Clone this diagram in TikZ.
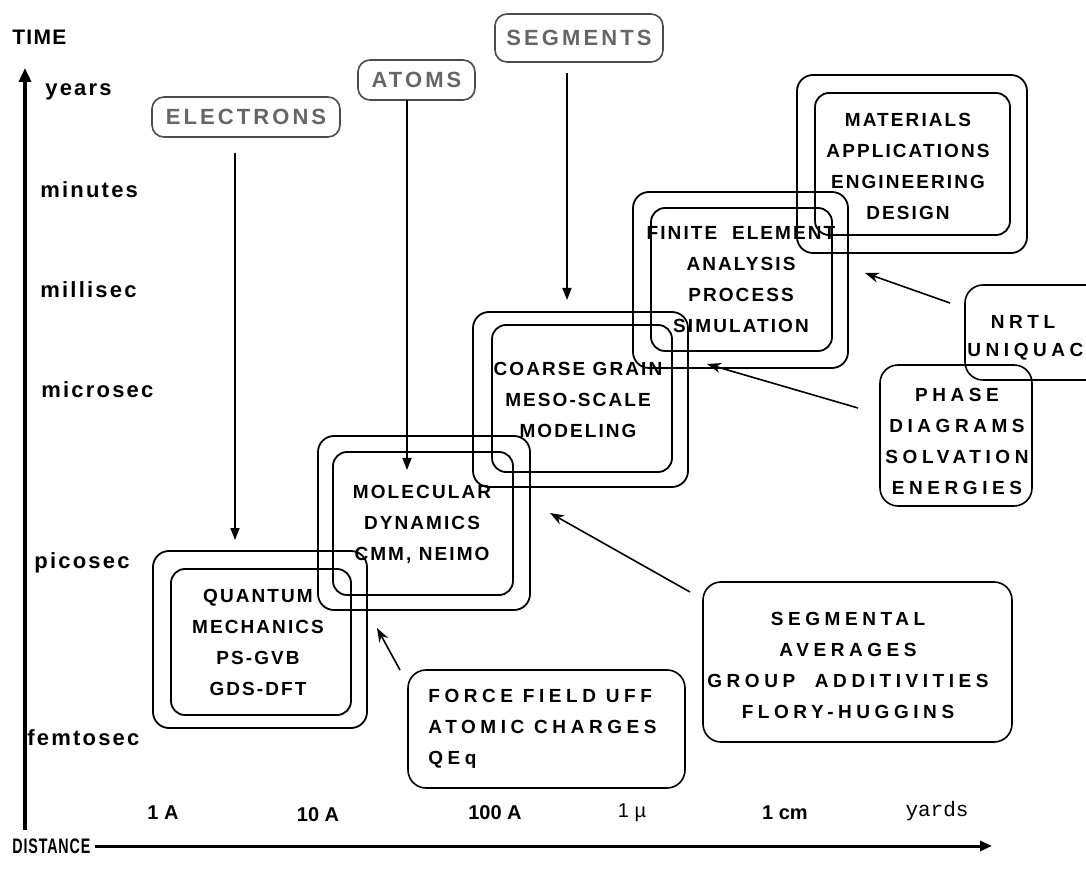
\documentclass[tikz,border=0pt]{standalone}
\usepackage{fontspec}
\setmainfont{Liberation Sans}
\newfontfamily\boxfont[LetterSpace=11]{Liberation Sans}
\newfontfamily\widefont[LetterSpace=24]{Liberation Sans}
\newfontfamily\headfont[LetterSpace=14]{Liberation Sans}
\newfontfamily\axisfont[LetterSpace=6]{Liberation Sans}
\newfontfamily\timefont[LetterSpace=10]{Liberation Sans}
\newfontfamily\yardfont{Liberation Mono}
\usetikzlibrary{arrows.meta}
\begin{document}
\begin{tikzpicture}[x=0.5pt,y=-0.5pt,
  box/.style={draw, rounded corners=8pt, line width=0.9pt, inner sep=0pt},
  ibox/.style={draw, rounded corners=7pt, line width=0.9pt, inner sep=0pt},
  sbox/.style={draw, rounded corners=9pt, line width=0.8pt, inner sep=0pt},
  hbox/.style={draw=black!70, rounded corners=6pt, line width=0.8pt, inner sep=0pt, text=black!60, font=\headfont\bfseries\fontsize{11}{13}\selectfont},
  btxt/.style={align=center, inner sep=0pt, font=\boxfont\bfseries\fontsize{9.5}{15.5}\selectfont},
  stxt/.style={align=center, inner sep=0pt, font=\widefont\bfseries\fontsize{9.5}{15.5}\selectfont},
  ttxt/.style={anchor=west, inner sep=0pt, font=\timefont\bfseries\fontsize{11}{13}\selectfont},
  dtxt/.style={inner sep=0pt, font=\bfseries\fontsize{10}{12}\selectfont},
  varrow/.style={line width=0.8pt, -{Triangle[length=6pt,width=4.5pt]}},
  darrow/.style={line width=0.8pt, -{Stealth[length=7pt,width=5pt]}},
]
\useasboundingbox (0,0) rectangle (1086,876);

% axes
\coordinate (tbot) at (25,830);
\coordinate (ttop) at (25,68);
\draw[line width=2pt, -{Triangle[length=7pt,width=6pt]}] (tbot) -- (ttop);
\coordinate (dleft) at (95,846);
\coordinate (dright) at (992,846);
\draw[line width=1.5pt, -{Triangle[length=6pt,width=5pt]}] (dleft) -- (dright);

\node[inner sep=0pt, anchor=west, font=\axisfont\bfseries\fontsize{10.5}{13}\selectfont] (time) at (12,37) {TIME};
\node[inner sep=0pt, anchor=west, font=\axisfont\bfseries\fontsize{10.5}{13}\selectfont] (dist) at (12,846) {\scalebox{0.68}[1]{DISTANCE}};

% time labels
\node[ttxt] (years) at (45,92) {years};
\node[ttxt] (minutes) at (40,190) {minutes};
\node[ttxt] (millisec) at (40,290) {millisec};
\node[ttxt] (microsec) at (41,390) {microsec};
\node[ttxt] (picosec) at (34,563) {picosec};
\node[ttxt] (femtosec) at (27,738) {femtosec};

% distance labels
\node[dtxt] (d1) at (163,813) {1 A};
\node[dtxt] (d2) at (318,815) {10 A};
\node[dtxt] (d3) at (495,813) {100 A};
\node[inner sep=0pt, font=\fontsize{10}{12}\selectfont] (d4) at (632,813) {1 µ};
\node[dtxt] (d5) at (785,813) {1 cm};
\node[inner sep=0pt, font=\yardfont\fontsize{10.5}{12}\selectfont] (d6) at (937,811) {yards};

% header labels
\node[hbox, minimum width=94pt, minimum height=20pt] (elec) at (246,117) {ELECTRONS};
\node[hbox, minimum width=58.5pt, minimum height=20pt] (atoms) at (416.5,80) {ATOMS};
\node[hbox, minimum width=84pt, minimum height=24pt] (segs) at (579,38) {SEGMENTS};

\coordinate (eA) at (235,153); \coordinate (eB) at (235,540);
\coordinate (aA) at (407,100); \coordinate (aB) at (407,470);
\coordinate (sA) at (567,73);  \coordinate (sB) at (567,300);
\draw[varrow] (eA) -- (eB);
\draw[varrow] (aA) -- (aB);
\draw[varrow] (sA) -- (sB);

% quantum
\node[box, minimum width=107pt, minimum height=88.5pt] (qo) at (260,639.5) {};
\node[ibox, minimum width=90pt, minimum height=73pt] (qi) at (261,642) {};
\node[btxt] (qt) at (258,642.5) {QUANTUM\\MECHANICS\\PS-GVB\\GDS-DFT};

% molecular dynamics
\node[box, minimum width=106pt, minimum height=87pt] (mo) at (424,523) {};
\node[ibox, minimum width=90pt, minimum height=71.5pt] (mi) at (423,523.5) {};
\node[btxt] (mt) at (422,524) {MOLECULAR\\DYNAMICS\\CMM, NEIMO};

% coarse grain
\node[box, minimum width=107.5pt, minimum height=87.5pt] (co) at (580.5,399.5) {};
\node[ibox, minimum width=90pt, minimum height=73.5pt] (ci) at (582,398.5) {};
\node[btxt] (ct) at (578,400) {COARSE GRAIN\\MESO-SCALE\\MODELING};

% finite element
\node[box, minimum width=107.5pt, minimum height=88pt] (fo) at (740.5,280) {};
\node[ibox, minimum width=90.5pt, minimum height=71.5pt] (fi) at (741.5,279.5) {};
\node[btxt] (ft) at (741,279.5) {FINITE\ \ ELEMENT\\ANALYSIS\\PROCESS\\SIMULATION};

% materials
\node[box, minimum width=115pt, minimum height=89pt] (mato) at (912,164) {};
\node[ibox, minimum width=97.5pt, minimum height=71pt] (mati) at (912.5,164) {};
\node[btxt] (matt) at (908,166) {MATERIALS\\APPLICATIONS\\ENGINEERING\\DESIGN};

% side boxes
\node[sbox, minimum width=77.5pt, minimum height=47.5pt] (nrtl) at (1042.5,332.5) {};
\node[stxt] (nrtlt1) at (1023,322) {NRTL};
\node[stxt, anchor=west] (nrtlt2) at (967,352) {UNIQUAC};

\node[sbox, minimum width=76pt, minimum height=70.5pt] (phase) at (956,435.5) {};
\node[stxt] (phaset) at (957,441) {PHASE\\DIAGRAMS\\SOLVATION\\ENERGIES};

\node[sbox, minimum width=154.5pt, minimum height=80pt] (segm) at (857.5,662) {};
\node[stxt] (segmt) at (848,665) {SEGMENTAL\\AVERAGES\\GROUP\ \ ADDITIVITIES\\FLORY-HUGGINS};

\node[sbox, minimum width=138.5pt, minimum height=59pt] (ff) at (546.5,729) {};
\node[stxt, align=left, anchor=west] (fft) at (428,729) {FORCE FIELD UFF\\ATOMIC CHARGES\\QEq};

% diagonal arrows
\coordinate (f1) at (400,670); \coordinate (f2) at (377,628);
\coordinate (g1) at (690,592); \coordinate (g2) at (550,513);
\coordinate (h1) at (858,408); \coordinate (h2) at (707,364);
\coordinate (k1) at (950,303); \coordinate (k2) at (865,273);
\draw[darrow] (f1) -- (f2);
\draw[darrow] (g1) -- (g2);
\draw[darrow] (h1) -- (h2);
\draw[darrow] (k1) -- (k2);
\end{tikzpicture}
\end{document}
